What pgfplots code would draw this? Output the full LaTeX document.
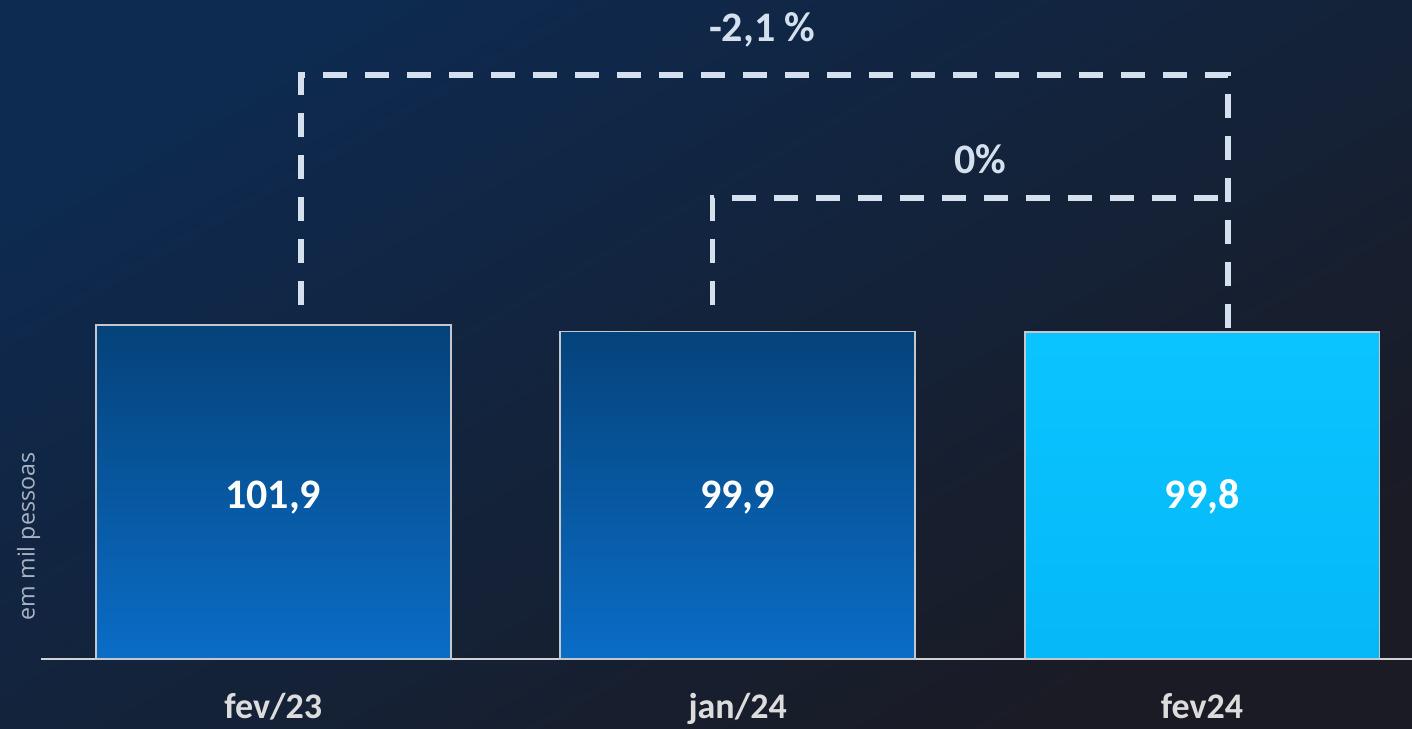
\documentclass[border=0pt]{standalone}
\usepackage{pgfplots}
\pgfplotsset{compat=1.18}
\usepackage{fontspec}
\setmainfont{Carlito}
\newfontfamily\osans{Open Sans}
\definecolor{bgA}{HTML}{0D2A50}
\definecolor{bgB}{HTML}{1A1B24}
\definecolor{barTop}{HTML}{05427A}
\definecolor{barBot}{HTML}{0A6DC6}
\definecolor{cyanTop}{HTML}{0AC4FF}
\definecolor{cyanBot}{HTML}{05B8F8}
\definecolor{edgegray}{HTML}{C4C8CC}
\definecolor{axisgray}{HTML}{D0D2D6}
\definecolor{tickgray}{HTML}{DCDCDC}
\definecolor{dashcol}{HTML}{D5E0EF}
\definecolor{ylabcol}{HTML}{A9B2C3}
\begin{document}
\begin{tikzpicture}
\shade[top color=bgA, bottom color=bgB, shading angle=30] (-20.5pt,-34.5pt) rectangle (685.5pt,329.5pt);
\begin{axis}[
  at={(0,0)}, anchor=south west,
  scale only axis, width=685.5pt, height=329.5pt,
  xmin=-0.5, xmax=2.452, ymin=0, ymax=201,
  axis x line=bottom, axis y line=none,
  axis line style={-, draw=axisgray, line width=1pt},
  xtick={0,1,2}, xticklabels={fev/23,jan/24,fev24},
  major tick length=0pt, ytick=\empty,
  xticklabel style={anchor=base, yshift=-29.5pt, font=\bfseries\fontsize{18}{20}\selectfont, text=tickgray},
  clip=false,
]
\addplot[ybar, bar shift=0pt, bar width=0.764, top color=barTop, bottom color=barBot, draw=edgegray, line width=0.9pt]
  coordinates {(0,101.9) (1,99.9)};
\addplot[ybar, bar shift=0pt, bar width=0.764, top color=cyanTop, bottom color=cyanBot, draw=edgegray, line width=0.9pt]
  coordinates {(2,99.8)};
\tikzset{dashline/.style={draw=dashcol, line width=2.8pt, dash pattern=on 12pt off 9pt}}
\draw[dashline] (axis cs:0.0603,108) -- (axis cs:0.0603,178.2) -- (axis cs:2.056,178.2) -- (axis cs:2.056,97.9);
\draw[dashline] (axis cs:0.946,108) -- (axis cs:0.946,140.6) -- (axis cs:2.045,140.6);
\node[anchor=base, text=white, font=\bfseries\fontsize{21}{24}\selectfont] at (axis cs:0,46) {101,9};
\node[anchor=base, text=white, font=\bfseries\fontsize{21}{24}\selectfont] at (axis cs:1,46) {99,9};
\node[anchor=base, text=white, font=\bfseries\fontsize{21}{24}\selectfont] at (axis cs:2,46) {99,8};
\node[anchor=base, text=dashcol, font=\bfseries\fontsize{21}{24}\selectfont] at (axis cs:1.053,188.3) {-2,1 \%};
\node[anchor=base, text=dashcol, font=\bfseries\fontsize{21}{24}\selectfont] at (axis cs:1.522,148) {0\%};
\node[rotate=90, text=ylabcol, font=\osans\fontsize{11.6}{14}\selectfont] at ([xshift=-6.2pt]rel axis cs:0,0.186) {em mil pessoas};
\end{axis}
\pgfresetboundingbox
\path[use as bounding box] (-20.5pt,-34.5pt) rectangle (685.5pt,329.5pt);
\end{tikzpicture}
\end{document}
